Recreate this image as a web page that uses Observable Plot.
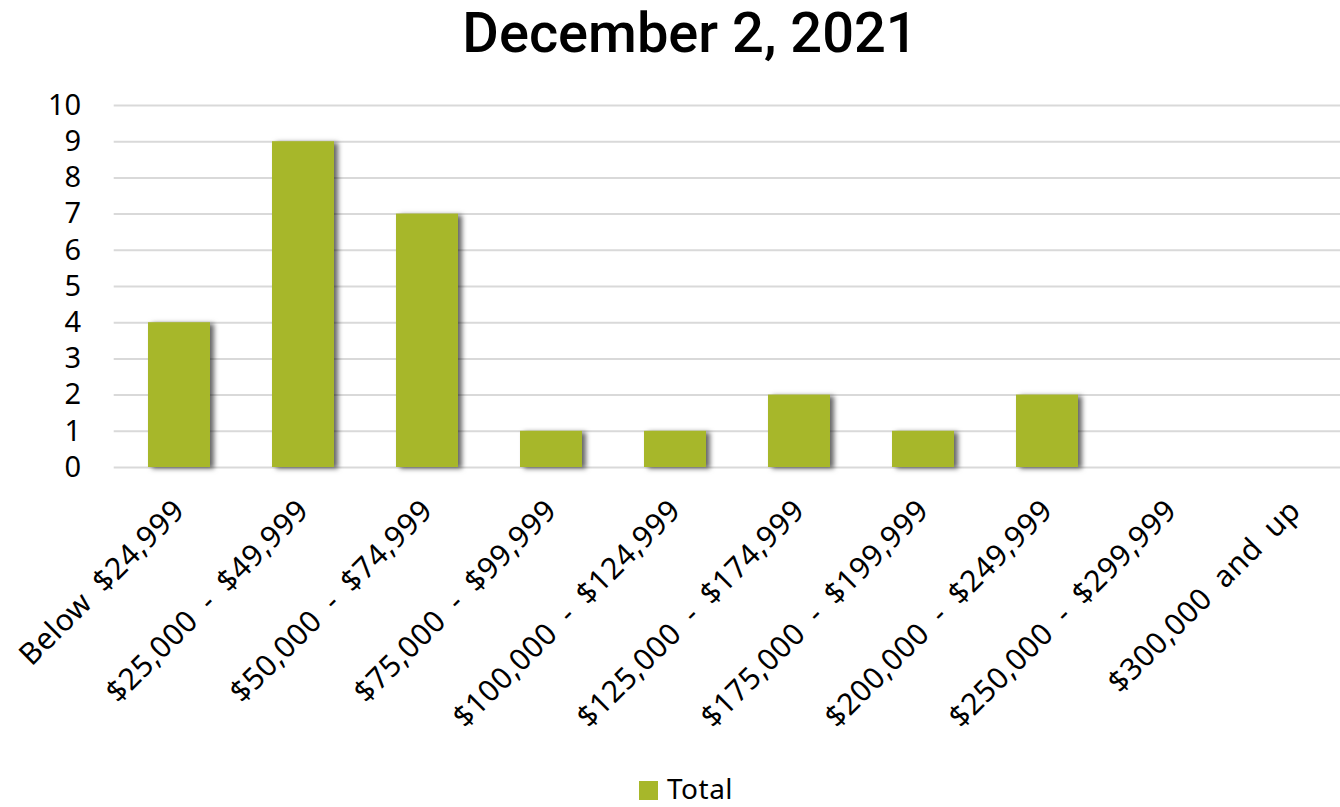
<!DOCTYPE html>
<html>
<head>
<meta charset="utf-8">
<script src="https://cdn.jsdelivr.net/npm/d3@7"></script>
<script src="https://cdn.jsdelivr.net/npm/@observablehq/plot@0.6"></script>
<style>
  html, body { margin: 0; padding: 0; background: #fff; overflow: hidden; }
  #wrap { position: relative; width: 1340px; height: 807px; }
  #title { position: absolute; left: 0; width: 1380px; top: -3px; text-align: center;
    font-family: "Roboto", sans-serif; font-weight: 500; font-size: 56px; line-height: 72px; color: #000; }
  #chart { position: absolute; left: 0; top: 0; }
  #legend { position: absolute; left: 639px; top: 774px; font-family: "Noto Sans", sans-serif; font-size: 28px; line-height: 28px; color: #000; display: flex; align-items: center; letter-spacing: 0.5px; }
  #legend .sw { width: 19px; height: 19px; background: #a7b72a; margin-right: 9px; margin-top: 4px; }
  .xlab text { word-spacing: 7px; letter-spacing: 0.6px; }
</style>
</head>
<body>
<div id="wrap">
  <div id="chart"></div>
  <div id="title">December 2, 2021</div>
  <div id="legend"><span class="sw"></span><span>Total</span></div>
</div>
<script>
const categories = [
  "Below $24,999",
  "$25,000 - $49,999",
  "$50,000 - $74,999",
  "$75,000 - $99,999",
  "$100,000 - $124,999",
  "$125,000 - $174,999",
  "$175,000 - $199,999",
  "$200,000 - $249,999",
  "$250,000 - $299,999",
  "$300,000 and up"
];
const totals = [4, 9, 7, 1, 1, 2, 1, 2, 0, 0];
const yTicks = [0, 1, 2, 3, 4, 5, 6, 7, 8, 9, 10];
const seriesName = "Total";

const data = categories.map((c, i) => ({category: c, value: totals[i]}));

const plot = Plot.plot({
  width: 1340,
  height: 770,
  marginTop: 105,
  marginBottom: 303,
  marginLeft: 113.7,
  marginRight: 0,
  style: {fontFamily: "Noto Sans, sans-serif", fontSize: "30px", color: "#000", background: "transparent"},
  x: {domain: categories, range: [113.7, 1359.4], paddingInner: 0.5, paddingOuter: 0.25, axis: null},
  y: {domain: [0, 10], label: null},
  marks: [
    Plot.ruleY(yTicks, {stroke: "#d9d9d9", strokeWidth: 2}),
    Plot.barY(data, {x: "category", y: "value", fill: "#a7b72a"}),
    Plot.axisY({ticks: yTicks, tickSize: 0, tickPadding: 33, label: null, fontSize: 29}),
    Plot.text(categories, {x: d => d, y: 0, dx: 0, dy: 38, rotate: -45, textAnchor: "end", fontSize: 30, fill: "#000", className: "xlab"})
  ]
});

// drop shadow for bars
const ns = "http://www.w3.org/2000/svg";
const defs = document.createElementNS(ns, "defs");
defs.innerHTML = '<filter id="barShadow" x="-30%" y="-10%" width="170%" height="130%"><feDropShadow dx="4" dy="1.5" stdDeviation="2.5" flood-color="#000" flood-opacity="0.6"/></filter>';
plot.insertBefore(defs, plot.firstChild);
plot.querySelectorAll('g[aria-label="bar"] rect').forEach(r => r.setAttribute("filter", "url(#barShadow)"));

document.getElementById("chart").appendChild(plot);
</script>
</body>
</html>
